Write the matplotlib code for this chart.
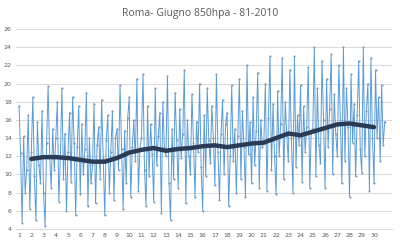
import matplotlib
matplotlib.use("Agg")
import matplotlib.pyplot as plt
import numpy as np

# daily values (8 samples per day, days 1..30)
day_vals = [
    [17.5, 12.3, 4.7, 14.2, 8.0, 10.5, 16.5, 6.2],
    [12.5, 18.5, 9.8, 5.0, 15.8, 11.0, 9.0, 17.0],
    [8.0, 4.3, 13.5, 19.7, 12.0, 8.5, 15.0, 10.5],
    [14.0, 18.0, 7.0, 11.8, 19.5, 9.5, 14.5, 6.0],
    [12.5, 16.8, 9.2, 18.5, 13.5, 5.5, 13.0, 17.5],
    [7.8, 15.5, 10.0, 12.8, 19.0, 6.5, 14.0, 9.0],
    [11.0, 17.8, 6.8, 13.2, 15.2, 9.5, 18.2, 11.8],
    [5.5, 13.8, 16.5, 8.0, 12.5, 17.0, 7.2, 14.0],
    [15.0, 10.5, 19.8, 12.8, 6.2, 14.8, 9.0, 16.2],
    [18.5, 7.5, 13.0, 16.0, 11.5, 20.5, 8.2, 12.8],
    [14.0, 21.0, 10.5, 6.5, 17.5, 9.8, 15.5, 12.2],
    [7.0, 19.5, 11.0, 14.2, 16.8, 5.8, 18.0, 13.0],
    [12.0, 20.8, 9.0, 5.0, 15.0, 9.5, 19.0, 13.8],
    [8.5, 17.2, 11.8, 14.5, 21.5, 6.8, 16.0, 12.0],
    [10.0, 18.8, 13.5, 7.5, 15.8, 12.5, 20.0, 10.8],
    [6.0, 16.5, 9.8, 19.5, 13.8, 11.2, 17.5, 14.0],
    [8.8, 21.0, 12.5, 7.2, 14.5, 18.2, 10.0, 15.5],
    [16.8, 6.5, 12.0, 19.8, 11.5, 15.0, 8.0, 14.2],
    [20.5, 9.5, 17.0, 13.0, 7.5, 22.0, 12.2, 15.8],
    [9.0, 18.5, 11.0, 14.8, 21.2, 8.5, 16.0, 13.0],
    [13.5, 20.0, 8.2, 16.2, 23.0, 10.5, 17.8, 12.0],
    [7.8, 19.2, 12.0, 15.5, 22.8, 9.5, 18.0, 14.2],
    [11.5, 21.5, 14.0, 8.0, 23.0, 10.8, 16.5, 13.2],
    [19.8, 9.2, 17.5, 12.5, 15.2, 21.8, 8.5, 14.8],
    [15.0, 24.0, 9.8, 19.5, 13.2, 11.2, 22.5, 16.0],
    [8.5, 20.5, 13.0, 17.2, 23.2, 10.0, 18.8, 14.5],
    [12.0, 22.0, 16.0, 9.0, 24.0, 11.5, 19.5, 15.2],
    [7.5, 21.0, 13.5, 17.8, 9.8, 16.5, 22.5, 12.8],
    [10.2, 24.0, 12.0, 17.0, 20.0, 8.2, 22.8, 14.0],
    [9.0, 21.5, 14.0, 18.5, 11.5, 19.8, 13.2, 15.8],
]

# moving average (dark line), one value per day from day 2 to day 30
ma_days = list(range(2, 31))
ma_vals = [11.7, 11.9, 11.9, 11.8, 11.6, 11.4, 11.4, 11.8, 12.4, 12.7,
           12.9, 12.6, 12.8, 12.9, 13.1, 13.2, 13.0, 13.2, 13.4, 13.5,
           14.0, 14.5, 14.3, 14.7, 15.1, 15.5, 15.6, 15.4, 15.2]

day_labels = [str(d) for d in range(1, 31)]
yticks = list(range(4, 27, 2))

per_day = len(day_vals[0])
vals = np.concatenate(day_vals)
x = 1 + np.arange(len(vals)) / per_day

fig = plt.figure(figsize=(4, 2.48), dpi=100)
ax = fig.add_axes([0.04, 0.077, 0.94, 0.806])

grey = '#595959'
ax.plot(x, vals, color='#5b9bd5', lw=0.7, marker='o', ms=1.5,
        mfc='#8098b2', mec='none', zorder=2)
ax.plot(ma_days, ma_vals, color='#2b3a55', lw=3.2, solid_capstyle='round', zorder=3)

ax.set_ylim(4, 26)
ax.set_xlim(1 - 1.5 * 12.24 / 12.24 / 6, 30 + 18 / 12.24)
ax.set_yticks(yticks)
ax.set_xticks(range(1, 31))
ax.set_xticklabels(day_labels)
ax.grid(axis='y', color='#d9d9d9', lw=0.7)
ax.set_axisbelow(True)
for s in ['top', 'right', 'left']:
    ax.spines[s].set_visible(False)
ax.spines['bottom'].set_color('#d9d9d9')
ax.tick_params(length=0, labelsize=4.5, colors=grey, pad=3)

fig.text(0.5, 0.945, 'Roma- Giugno 850hpa - 81-2010', ha='center', va='center',
         fontsize=7.5, color=grey, family='Open Sans')

fig.savefig('out.png', dpi=100, facecolor='white')
